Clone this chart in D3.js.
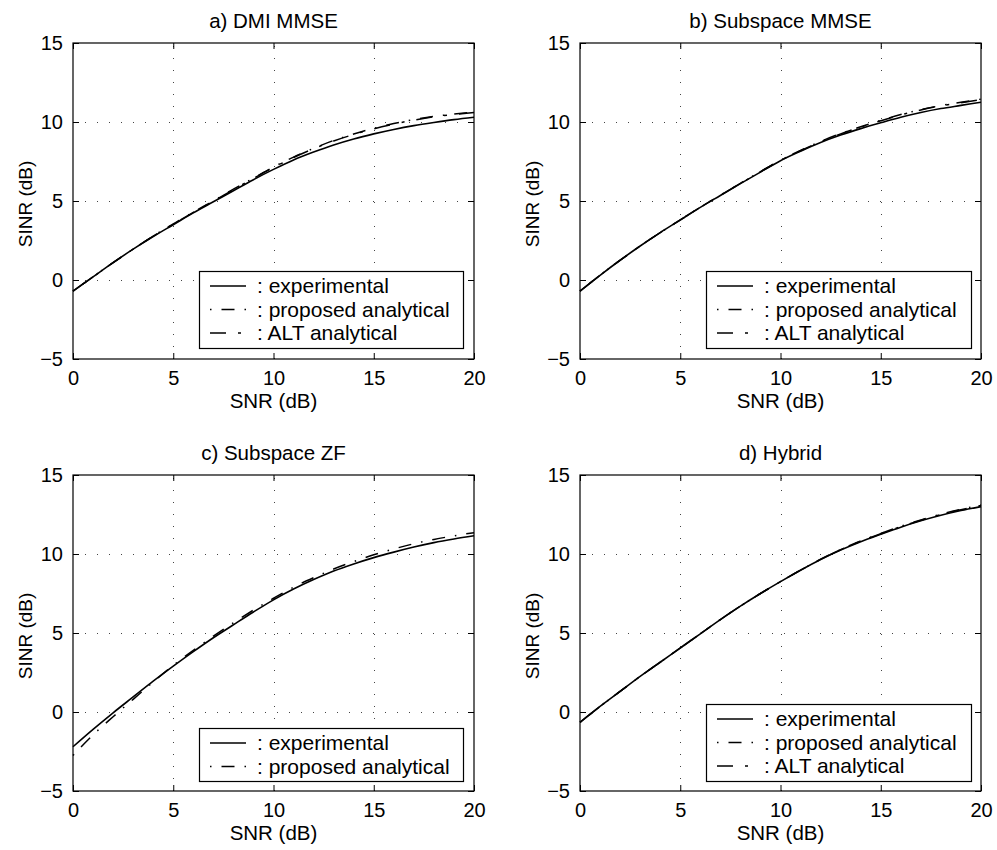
<!DOCTYPE html>
<html>
<head>
<meta charset="utf-8">
<script src="https://cdn.jsdelivr.net/npm/d3@7"></script>
<style>
  html, body { margin: 0; padding: 0; background: #fff; }
  svg text { font-family: "Liberation Sans", Arial, Helvetica, sans-serif; fill: #000; }
</style>
</head>
<body>
<svg id="fig" width="997" height="850"></svg>
<script>
// SNR grid (dB) shared by every panel
const snr = [0, 1, 2, 3, 4, 5, 6, 7, 8, 9, 10, 11, 12, 13, 14, 15, 16, 17, 18, 19, 20];

// Tick values
const xTicks = [0, 5, 10, 15, 20];
const yTicks = [-5, 0, 5, 10, 15];

// Panel titles
const panelTitles = ["a) DMI MMSE", "b) Subspace MMSE", "c) Subspace ZF", "d) Hybrid"];

// Legend entries
const legendLabels = [": experimental", ": proposed analytical", ": ALT analytical"];

// a) DMI MMSE — output SINR (dB)
const dmiExperimental = [-0.7, 0.2, 1.1, 1.95, 2.75, 3.5, 4.25, 4.95, 5.65, 6.35, 7.0, 7.6, 8.1, 8.55, 8.93, 9.25, 9.53, 9.77, 9.97, 10.15, 10.3];
const dmiProposed     = [-0.7, 0.2, 1.1, 1.95, 2.78, 3.55, 4.3, 5.0, 5.75, 6.45, 7.15, 7.78, 8.33, 8.83, 9.24, 9.6, 9.9, 10.15, 10.35, 10.5, 10.62];
const dmiAlt          = [-0.7, 0.2, 1.1, 1.95, 2.77, 3.54, 4.28, 4.99, 5.72, 6.43, 7.12, 7.75, 8.31, 8.8, 9.21, 9.57, 9.87, 10.12, 10.33, 10.48, 10.6];

// b) Subspace MMSE
const subMmseExperimental = [-0.7, 0.3, 1.25, 2.15, 3.0, 3.8, 4.6, 5.35, 6.1, 6.83, 7.55, 8.15, 8.7, 9.17, 9.58, 9.95, 10.3, 10.6, 10.85, 11.05, 11.25];
const subMmseProposed     = [-0.7, 0.3, 1.25, 2.15, 3.0, 3.8, 4.6, 5.37, 6.12, 6.86, 7.58, 8.2, 8.77, 9.27, 9.7, 10.1, 10.47, 10.78, 11.04, 11.25, 11.45];
const subMmseAlt          = [-0.7, 0.3, 1.25, 2.15, 3.0, 3.8, 4.6, 5.36, 6.11, 6.85, 7.57, 8.18, 8.75, 9.25, 9.68, 10.08, 10.45, 10.76, 11.02, 11.22, 11.42];

// c) Subspace ZF
const zfExperimental = [-2.2, -1.1, -0.05, 0.95, 1.95, 2.9, 3.82, 4.7, 5.52, 6.33, 7.1, 7.78, 8.38, 8.92, 9.37, 9.77, 10.12, 10.44, 10.72, 10.95, 11.15];
const zfProposed     = [-2.75, -1.45, -0.3, 0.8, 1.9, 2.95, 3.9, 4.8, 5.65, 6.45, 7.2, 7.9, 8.5, 9.05, 9.52, 9.95, 10.32, 10.65, 10.92, 11.15, 11.35];

// d) Hybrid
const hybExperimental = [-0.65, 0.35, 1.3, 2.25, 3.15, 4.05, 4.95, 5.85, 6.7, 7.5, 8.25, 8.97, 9.65, 10.25, 10.78, 11.25, 11.7, 12.1, 12.45, 12.75, 13.0];
const hybProposed     = [-0.65, 0.35, 1.3, 2.25, 3.15, 4.05, 4.95, 5.85, 6.7, 7.5, 8.25, 8.98, 9.67, 10.28, 10.82, 11.3, 11.75, 12.15, 12.52, 12.83, 13.1];
const hybAlt          = [-0.65, 0.35, 1.3, 2.25, 3.15, 4.05, 4.95, 5.85, 6.7, 7.5, 8.25, 8.98, 9.66, 10.27, 10.81, 11.28, 11.73, 12.13, 12.5, 12.8, 13.07];

// Line styles for the three curve kinds
const styles = [
  { dash: null, width: 1.6 },              // experimental: solid
  { dash: "1.5,10,13,10", width: 1.5 },    // proposed analytical: dot-dash
  { dash: "16,12,3,12", width: 1.5 }       // ALT analytical: dash-dot
];

const panels = [
  { title: panelTitles[0], box: { x0: 73, x1: 474, y0: 43, y1: 359 },
    series: [dmiExperimental, dmiProposed, dmiAlt],
    legend: { x: 199, y: 271, w: 264, h: 77 } },
  { title: panelTitles[1], box: { x0: 580, x1: 981, y0: 43, y1: 359 },
    series: [subMmseExperimental, subMmseProposed, subMmseAlt],
    legend: { x: 706, y: 271, w: 265, h: 77 } },
  { title: panelTitles[2], box: { x0: 73, x1: 474, y0: 475, y1: 791 },
    series: [zfExperimental, zfProposed],
    legend: { x: 199, y: 728, w: 264, h: 53 } },
  { title: panelTitles[3], box: { x0: 580, x1: 981, y0: 475, y1: 791 },
    series: [hybExperimental, hybProposed, hybAlt],
    legend: { x: 706, y: 704, w: 265, h: 77 } }
];

const svg = d3.select("#fig");
const FS = 20;

panels.forEach(p => {
  const b = p.box;
  const x = d3.scaleLinear().domain([0, 20]).range([b.x0, b.x1]);
  const y = d3.scaleLinear().domain([-5, 15]).range([b.y1, b.y0]);
  const g = svg.append("g");

  // dotted grid
  const grid = g.append("g").attr("stroke", "#444").attr("stroke-width", 1)
    .attr("stroke-dasharray", "1,11");
  grid.selectAll("line.gx").data(xTicks.slice(1, -1)).join("line")
    .attr("x1", d => Math.round(x(d)) + 0.5).attr("x2", d => Math.round(x(d)) + 0.5)
    .attr("y1", b.y1).attr("y2", b.y0);
  grid.selectAll("line.gy").data(yTicks.slice(1, -1)).join("line")
    .attr("y1", d => Math.round(y(d)) + 0.5).attr("y2", d => Math.round(y(d)) + 0.5)
    .attr("x1", b.x0).attr("x2", b.x1);

  // axes with inward ticks on all four sides
  const tl = 6;
  const axB = g.append("g").attr("transform", `translate(0,${b.y1})`)
    .call(d3.axisBottom(x).tickValues(xTicks).tickSizeInner(-tl).tickSizeOuter(0).tickPadding(12));
  const axT = g.append("g").attr("transform", `translate(0,${b.y0})`)
    .call(d3.axisTop(x).tickValues(xTicks).tickSizeInner(-tl).tickSizeOuter(0).tickFormat(""));
  const axL = g.append("g").attr("transform", `translate(${b.x0},0)`)
    .call(d3.axisLeft(y).tickValues(yTicks).tickSizeInner(-tl).tickSizeOuter(0).tickPadding(10)
      .tickFormat(d => d < 0 ? "\u2212" + Math.abs(d) : d));
  const axR = g.append("g").attr("transform", `translate(${b.x1},0)`)
    .call(d3.axisRight(y).tickValues(yTicks).tickSizeInner(-tl).tickSizeOuter(0).tickFormat(""));
  [axB, axT, axL, axR].forEach(a => {
    a.select(".domain").remove();
    a.selectAll("line").attr("stroke", "#000").attr("stroke-width", 1);
    a.selectAll("text").attr("font-size", FS).attr("font-family", null).attr("fill", "#000");
  });
  axB.selectAll("text").attr("dy", "0.71em");

  // frame
  g.append("rect").attr("x", b.x0).attr("y", b.y0)
    .attr("width", b.x1 - b.x0).attr("height", b.y1 - b.y0)
    .attr("fill", "none").attr("stroke", "#000").attr("stroke-width", 1.2);

  // curves
  const line = d3.line().x((d, i) => x(snr[i])).y(d => y(d)).curve(d3.curveMonotoneX);
  p.series.forEach((s, k) => {
    g.append("path").datum(s).attr("d", line)
      .attr("fill", "none").attr("stroke", "#000")
      .attr("stroke-width", styles[k].width)
      .attr("stroke-dasharray", styles[k].dash);
  });

  // title and axis labels
  const cx = (b.x0 + b.x1) / 2;
  g.append("text").attr("x", cx).attr("y", b.y0 - 15).attr("text-anchor", "middle")
    .attr("font-size", FS + 0.5).text(p.title);
  g.append("text").attr("x", cx).attr("y", b.y1 + 49).attr("text-anchor", "middle")
    .attr("font-size", FS + 0.5).text("SNR (dB)");
  g.append("text").attr("transform", `translate(${b.x0 - 41},${(b.y0 + b.y1) / 2 + 3}) rotate(-90)`)
    .attr("text-anchor", "middle").attr("font-size", FS - 1).text("SINR (dB)");

  // legend
  const L = p.legend;
  const lg = g.append("g");
  lg.append("rect").attr("x", L.x + 0.5).attr("y", L.y + 0.5).attr("width", L.w).attr("height", L.h)
    .attr("fill", "#fff").attr("stroke", "#000").attr("stroke-width", 1.2);
  p.series.forEach((s, k) => {
    const ry = L.y + 15 + k * 23.5;
    lg.append("line").attr("x1", L.x + 11).attr("x2", L.x + 47).attr("y1", ry).attr("y2", ry)
      .attr("stroke", "#000").attr("stroke-width", styles[k].width)
      .attr("stroke-dasharray", styles[k].dash);
    lg.append("text").attr("x", L.x + 58).attr("y", ry + 7).attr("font-size", FS + 1)
      .text(legendLabels[k]);
  });
});
</script>
</body>
</html>
